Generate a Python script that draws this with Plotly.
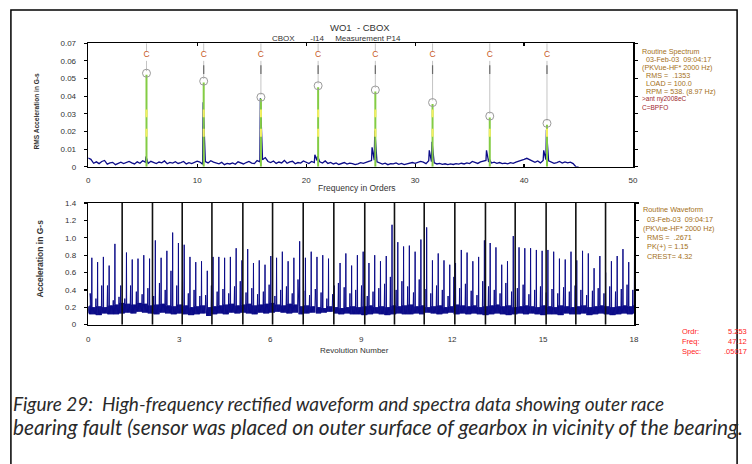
import numpy as np
import plotly.graph_objects as go

W, H = 752, 464

# ---------------- Spectrum data (orders) ----------------
SPEC_STEP = 0.25
spec_floor = [
    0.0050, 0.0042, 0.0020, 0.0028, 0.0018, 0.0030, 0.0036, 0.0015, 0.0022,
    0.0025, 0.0012, 0.0020, 0.0026, 0.0018, 0.0024, 0.0030, 0.0022,
    0.0016, 0.0028, 0.0020, 0.0034, 0.0026, 0.0019, 0.0031, 0.0024,
    0.0018, 0.0027, 0.0022, 0.0033, 0.0017, 0.0025, 0.0021, 0.0029,
    0.0019, 0.0024, 0.0030, 0.0016, 0.0023, 0.0018, 0.0026, 0.0032,
    0.0027, 0.0015, 0.0030, 0.0022, 0.0034, 0.0026, 0.0020, 0.0017,
    0.0025, 0.0012, 0.0019, 0.0016, 0.0022, 0.0014, 0.0028, 0.0020,
    0.0016, 0.0024, 0.0030, 0.0021, 0.0018, 0.0035, 0.0028, 0.0040,
    0.0052, 0.0030, 0.0024, 0.0033, 0.0019, 0.0027, 0.0022, 0.0036,
    0.0020, 0.0028, 0.0031, 0.0017, 0.0024, 0.0021, 0.0033, 0.0026,
    0.0018, 0.0030, 0.0024, 0.0036, 0.0028, 0.0021, 0.0033, 0.0019,
    0.0025, 0.0016, 0.0022, 0.0013, 0.0020, 0.0024, 0.0015, 0.0021,
    0.0018, 0.0012, 0.0017, 0.0023, 0.0019, 0.0026, 0.0030, 0.0035,
    0.0038, 0.0028, 0.0022, 0.0015, 0.0020, 0.0012, 0.0018, 0.0016,
    0.0022, 0.0014, 0.0019, 0.0012, 0.0017, 0.0021, 0.0024, 0.0019,
    0.0023, 0.0030, 0.0026, 0.0018, 0.0034, 0.0029, 0.0022, 0.0016,
    0.0019, 0.0014, 0.0017, 0.0012, 0.0016, 0.0013, 0.0018, 0.0015,
    0.0020, 0.0016, 0.0022, 0.0018, 0.0030, 0.0024, 0.0019, 0.0028,
    0.0032, 0.0036, 0.0027, 0.0021, 0.0026, 0.0019, 0.0024, 0.0018,
    0.0021, 0.0017, 0.0023, 0.0019, 0.0026, 0.0030, 0.0035, 0.0042,
    0.0048, 0.0040, 0.0030, 0.0025, 0.0033, 0.0022, 0.0036, 0.0040,
    0.0034, 0.0026, 0.0019, 0.0024, 0.0030, 0.0021, 0.0028, 0.0022,
    0.0026, 0.0018, 0.0, 0.0,
]
# spectral lines (blue) at the fault harmonics and their side bins
peak_orders = [5.30, 10.55, 15.80, 21.05, 26.30, 31.55, 36.80, 42.05,
               20.80, 26.05, 31.30, 36.55, 41.80]
peak_vals = [0.0058, 0.0366, 0.0388, 0.0060, 0.0205, 0.0142, 0.0045, 0.0210,
             0.0068, 0.0110, 0.0093, 0.0093, 0.0093]
# cursor (C) harmonics and the marker values
cursor_orders = [5.35, 10.6, 15.85, 21.1, 26.35, 31.6, 36.85, 42.1]
cursor_vals = [0.0530, 0.0485, 0.0394, 0.0459, 0.0435, 0.0364, 0.0287, 0.0246]

# ---------------- Waveform data (revolutions) ----------------
ORDER = 5.253          # impacts per revolution (cursor order)
FIRST_IMPACT = 0.12    # revolution of first impact
impact_peaks = [
    0.77, 0.72, 0.78, 0.68, 0.93, 0.45, 0.83, 0.75, 0.76, 0.80,
    0.76, 0.97, 0.77, 0.85, 1.06, 0.94, 0.92, 0.78, 0.72, 0.73,
    0.62, 0.78, 0.78, 0.77, 0.78, 0.88, 0.74, 0.87, 0.71, 0.74,
    0.69, 0.79, 0.77, 0.84, 0.73, 0.77, 0.96, 0.77, 0.84, 0.78,
    0.80, 0.76, 0.45, 0.71, 0.82, 0.68, 0.80, 0.84, 0.71, 0.80,
    0.73, 0.79, 1.15, 0.95, 0.90, 0.91, 0.84, 0.98, 1.12, 0.74,
    0.82, 0.74, 0.69, 0.71, 0.86, 0.83, 0.73, 0.78, 0.97, 0.94,
    0.89, 0.69, 0.73, 1.02, 0.89, 0.88, 0.88, 0.86, 0.85, 0.86,
    0.84, 0.76, 0.75, 0.84, 0.74, 0.85, 0.82, 0.65, 0.79, 0.60,
    0.73, 0.79, 0.87, 0.72, 0.88,
]
precursor_peaks = [
    0.36, 0.30, 0.45, 0.45, 0.28, 0.32, 0.30, 0.45, 0.38, 0.35,
    0.42, 0.33, 0.48, 0.40, 0.62, 0.45, 0.55, 0.36, 0.40, 0.33,
    0.34, 0.45, 0.38, 0.41, 0.36, 0.44, 0.50, 0.37, 0.42, 0.35,
    0.38, 0.46, 0.33, 0.40, 0.44, 0.36, 0.52, 0.39, 0.34, 0.41,
    0.37, 0.30, 0.35, 0.48, 0.43, 0.36, 0.40, 0.45, 0.33, 0.38,
    0.42, 0.47, 0.55, 0.40, 0.50, 0.44, 0.37, 0.52, 0.41, 0.36,
    0.45, 0.40, 0.33, 0.55, 0.42, 0.47, 0.39, 0.34, 0.50, 0.44,
    0.40, 0.36, 0.48, 0.38, 0.42, 0.46, 0.35, 0.40, 0.44, 0.37,
    0.41, 0.36, 0.43, 0.38, 0.45, 0.40, 0.34, 0.39, 0.42, 0.36,
    0.44, 0.38, 0.41, 0.46, 0.40,
]
floor_low = [
    0.12, 0.11, 0.13, 0.12, 0.12, 0.13, 0.14, 0.13, 0.15, 0.14,
    0.13, 0.12, 0.14, 0.13, 0.12, 0.13, 0.12, 0.11, 0.12, 0.13,
    0.10, 0.12, 0.13, 0.12, 0.14, 0.13, 0.14, 0.13, 0.12, 0.14,
    0.13, 0.14, 0.15, 0.14, 0.13, 0.14, 0.12, 0.13, 0.14, 0.13,
    0.14, 0.15, 0.13, 0.12, 0.13, 0.12, 0.12, 0.11, 0.12, 0.13,
    0.12, 0.11, 0.12, 0.13, 0.12, 0.12, 0.13, 0.12, 0.14, 0.13,
    0.12, 0.13, 0.14, 0.12, 0.13, 0.12, 0.13, 0.12, 0.11, 0.12,
    0.13, 0.12, 0.11, 0.12, 0.13, 0.12, 0.13, 0.12, 0.11, 0.12,
    0.12, 0.11, 0.13, 0.12, 0.12, 0.13, 0.11, 0.12, 0.13, 0.12,
    0.11, 0.12, 0.13, 0.12, 0.13,
]
floor_high = [
    0.20, 0.21, 0.20, 0.22, 0.23, 0.25, 0.24, 0.23, 0.25, 0.24,
    0.22, 0.23, 0.24, 0.22, 0.21, 0.23, 0.22, 0.20, 0.21, 0.22,
    0.20, 0.21, 0.22, 0.23, 0.24, 0.22, 0.23, 0.24, 0.22, 0.23,
    0.24, 0.25, 0.23, 0.22, 0.24, 0.23, 0.21, 0.22, 0.21, 0.20,
    0.19, 0.21, 0.20, 0.19, 0.20, 0.21, 0.20, 0.21, 0.22, 0.20,
    0.21, 0.20, 0.22, 0.21, 0.22, 0.23, 0.21, 0.22, 0.20, 0.21,
    0.22, 0.20, 0.21, 0.23, 0.22, 0.21, 0.22, 0.20, 0.21, 0.22,
    0.23, 0.21, 0.22, 0.20, 0.21, 0.22, 0.21, 0.20, 0.22, 0.21,
    0.20, 0.22, 0.21, 0.20, 0.21, 0.22, 0.20, 0.21, 0.22, 0.21,
    0.20, 0.21, 0.22, 0.21, 0.22,
]
rev_marks = [1.12, 2.12, 3.10, 4.08, 5.10, 6.08, 7.09, 8.10, 9.12,
             10.10, 11.08, 12.09, 13.10, 14.08, 15.10, 16.08, 17.06]

spec_ticks = [0, 0.01, 0.02, 0.03, 0.04, 0.05, 0.06, 0.07]
spec_ticktext = ["0", "0.01", "0.02", "0.03", "0.04", "0.05", "0.06", "0.07"]
wave_ticks = [0, 0.2, 0.4, 0.6, 0.8, 1.0, 1.2, 1.4]
wave_ticktext = ["0", "0.2", "0.4", "0.6", "0.8", "1.0", "1.2", "1.4"]

spec_info = ["Routine Spectrum", "  03-Feb-03  09:04:17", "(PKVue-HF* 2000 Hz)",
             "  RMS =  .1353", "  LOAD = 100.0", "  RPM = 538. (8.97 Hz)"]
spec_info2 = [">ant ny2008eC", "C=BPFO"]
wave_info = ["Routine Waveform", "  03-Feb-03  09:04:17", "(PKVue-HF* 2000 Hz)",
             "  RMS =  .2671", "  PK(+) = 1.15", "  CREST= 4.32"]
cursor_labels = ["Ordr:", "Freq:", "Spec:"]
cursor_values = ["5.253", "47.12", ".05017"]

NAVY = "#0c0c88"
FONT = "Liberation Sans"

# ---------------- build traces ----------------
fig = go.Figure()

# spectrum line: floor merged with spectral lines
sx = [i * SPEC_STEP for i in range(len(spec_floor))]
sy = list(spec_floor)
pts = sorted(list(zip(sx, sy)) + list(zip(peak_orders, peak_vals)))
fig.add_trace(go.Scatter(x=[p[0] for p in pts], y=[p[1] for p in pts], mode="lines",
                         line=dict(color=NAVY, width=1.3), xaxis="x", yaxis="y",
                         hoverinfo="skip"))

# cursor lines
gx, gy, dx, dy, grx, gry, yx, yy = [], [], [], [], [], [], [], []
for o, v in zip(cursor_orders, cursor_vals):
    gx += [o, o, None, o, o, None]
    gy += [0.07, 0.0655, None, 0.0600, v + 0.0012, None]
    if v < 0.051:
        dx += [o, o, None]
        dy += [0.0575, 0.0525, None]
    grx += [o, o, None]
    gry += [0.0, v - 0.0008, None]
    for a, b in [(0.017, 0.0215), (0.028, 0.0325)]:
        if b < v - 0.002:
            yx += [o, o, None]
            yy += [a, b, None]
fig.add_trace(go.Scatter(x=gx, y=gy, mode="lines", line=dict(color="#c4c4c4", width=1),
                         xaxis="x", yaxis="y", hoverinfo="skip"))
fig.add_trace(go.Scatter(x=dx, y=dy, mode="lines", line=dict(color="#6a6a6a", width=1.2),
                         xaxis="x", yaxis="y", hoverinfo="skip"))
fig.add_trace(go.Scatter(x=grx, y=gry, mode="lines", line=dict(color="#84cc44", width=2),
                         xaxis="x", yaxis="y", hoverinfo="skip"))
fig.add_trace(go.Scatter(x=yx, y=yy, mode="lines", line=dict(color="#f4f060", width=2),
                         xaxis="x", yaxis="y", hoverinfo="skip"))
fig.add_trace(go.Scatter(x=cursor_orders, y=cursor_vals, mode="markers",
                         marker=dict(symbol="circle-open", size=8, color="#9a9a9a",
                                     line=dict(width=1)),
                         xaxis="x", yaxis="y", hoverinfo="skip", cliponaxis=False))
fig.add_trace(go.Scatter(x=cursor_orders, y=[0.0632] * len(cursor_orders), mode="text",
                         text=["C"] * len(cursor_orders),
                         textfont=dict(family=FONT, size=8.5, color="#c8581e"),
                         xaxis="x", yaxis="y", hoverinfo="skip", cliponaxis=False))

# waveform
wx, wy = [0.0, 0.02, 0.04, 0.06, 0.08, 0.10], [0.13, 0.21, 0.12, 0.22, 0.13, 0.20]
n = len(impact_peaks)
for k in range(n):
    t = FIRST_IMPACT + k / ORDER
    lo, hi = floor_low[k], floor_high[k]
    wx += [t - 0.055, t - 0.045, t - 0.035, t - 0.02, t - 0.008, t]
    wy += [precursor_peaks[k], lo, hi, lo, hi, impact_peaks[k]]
    offs = [0.008, 0.022, 0.036, 0.05, 0.064, 0.078, 0.092, 0.106, 0.12]
    vals = [lo, hi, lo, hi, lo, hi, lo, hi, lo]
    wx += [t + d for d in offs]
    wy += vals
fig.add_trace(go.Scatter(x=wx, y=wy, mode="lines", line=dict(color=NAVY, width=1),
                         xaxis="x2", yaxis="y2", hoverinfo="skip"))
rx, ry = [], []
for r in rev_marks:
    rx += [r, r, None]
    ry += [0, 1.4, None]
fig.add_trace(go.Scatter(x=rx, y=ry, mode="lines", line=dict(color="#111", width=1.6),
                         xaxis="x2", yaxis="y2", hoverinfo="skip"))


def px(x):
    return x / W


def py(y):
    return 1 - y / H


tickfont = dict(family=FONT, size=8, color="#333")
axis_common = dict(showline=True, linecolor="black", linewidth=1.5, showgrid=False,
                   zeroline=False, tickfont=tickfont, tickcolor="black", tickwidth=1.2)

fig.update_layout(
    width=W, height=H, margin=dict(l=0, r=0, t=0, b=0),
    paper_bgcolor="white", plot_bgcolor="white", showlegend=False,
    xaxis=dict(domain=[px(87), px(637)], range=[0, 50], tickvals=[0, 10, 20, 30, 40, 50],
               ticks="inside", ticklen=3, mirror="ticks", ticklabelstandoff=5,
               anchor="y", **axis_common),
    yaxis=dict(domain=[py(166), py(40)], range=[0, 0.07], tickvals=spec_ticks,
               ticktext=spec_ticktext, ticks="outside", ticklen=3, mirror="ticks",
               ticklabelstandoff=6, anchor="x", **axis_common),
    xaxis2=dict(domain=[px(87), px(638)], range=[0, 18],
                tickvals=[0, 3, 6, 9, 12, 15, 18], ticks="", mirror=True,
                ticklabelstandoff=6, anchor="y2", **axis_common),
    yaxis2=dict(domain=[py(327), py(203)], range=[0, 1.4], tickvals=wave_ticks,
                ticktext=wave_ticktext, ticks="outside", ticklen=3, mirror="ticks",
                ticklabelstandoff=6, anchor="x2", **axis_common),
)

ann = []


def text(x, y, s, size=7, color="#333", anchor="left", **kw):
    ann.append(dict(x=px(x), y=py(y), xref="paper", yref="paper", text=s, showarrow=False,
                    xanchor=anchor, yanchor="middle", borderpad=0,
                    font=dict(family=FONT, size=size, color=color), **kw))


text(361, 24, "WO1&nbsp;&nbsp;-&nbsp;CBOX", size=9.5, anchor="center")
text(338, 35, "CBOX&nbsp;&nbsp;&nbsp;&nbsp;&nbsp;&nbsp;&nbsp;-I14&nbsp;&nbsp;&nbsp;&nbsp;&nbsp;Measurement P14",
     size=8, anchor="center")
text(358, 188, "Frequency in Orders", size=8.5, anchor="center")
text(356, 353, "Revolution Number", size=8, anchor="center")
text(35, 109, "<b>RMS Acceleration in G-s</b>", size=6.6, anchor="center", textangle=-90)
text(38, 260, "<b>Acceleration in G-s</b>", size=8.5, anchor="center", textangle=-90)

INFO = "#a46f18"
for i, s in enumerate(spec_info):
    text(645, 48 + i * 8.15, s.replace(" ", "&nbsp;"), size=7.2, color=INFO)
for i, s in enumerate(spec_info2):
    text(645, 97 + i * 8.15, s, size=6.5, color="#a0282d")
for i, s in enumerate(wave_info):
    text(646, 210 + i * 9.4, s.replace(" ", "&nbsp;"), size=7.3, color=INFO)
for i, (a, b) in enumerate(zip(cursor_labels, cursor_values)):
    text(685, 334 + i * 10, a, size=7.5, color="#ff1a1a")
    text(753, 334 + i * 10, b, size=7.5, color="#ff1a1a", anchor="right")

CAP1 = dict(family="Lato", size=19.0, color="#2a2a2a")
CAP2 = dict(family="Lato", size=20.8, color="#2a2a2a")
ann.append(dict(x=px(10), y=py(407), xref="paper", yref="paper", showarrow=False,
                xanchor="left", yanchor="middle", font=CAP1, borderpad=0,
                text="<i>Figure 29:  High-frequency rectified waveform and spectra data showing outer race</i>"))
ann.append(dict(x=px(10), y=py(431), xref="paper", yref="paper", showarrow=False,
                xanchor="left", yanchor="middle", font=CAP2, borderpad=0,
                text="<i>bearing fault (sensor was placed on outer surface of gearbox in vicinity of the bearing.</i>"))
fig.update_layout(annotations=ann)

# outer frame
fig.add_shape(type="rect", xref="paper", yref="paper", x0=px(9), x1=px(742),
              y0=-0.05, y1=py(6), line=dict(color="black", width=1.5))

fig.write_html("out.html", config={"displayModeBar": False, "staticPlot": True},
               post_script="document.body.style.margin='0';document.body.style.overflow='hidden';")
